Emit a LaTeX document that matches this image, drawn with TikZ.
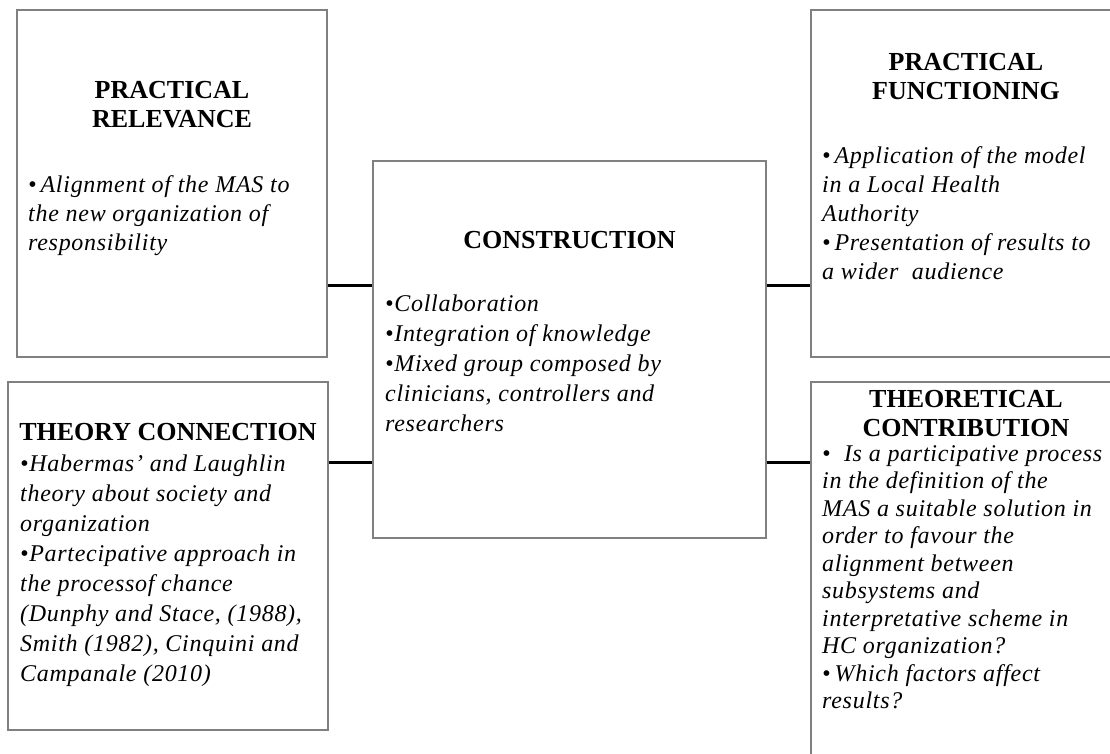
\documentclass[tikz,border=0pt]{standalone}
\usepackage{fontspec}
\setmainfont{Liberation Serif}
\newfontfamily\bodyfont[LetterSpace=3]{Liberation Serif}
\usetikzlibrary{positioning}

\begin{document}
\begin{tikzpicture}[x=1pt,y=-1pt,
  box/.style={draw=black!50,line width=1.5pt,minimum width=310pt,inner sep=0pt},
  head/.style={font=\fontsize{26}{29}\selectfont\bfseries,align=center,inner sep=0pt,anchor=north},
  txt/.style={font=\bodyfont\fontsize{24}{29}\selectfont\itshape,align=left,inner sep=0pt,anchor=north west},
  link/.style={line width=3pt,black}]
\useasboundingbox (0,0) rectangle (1110,753);
\clip (0,0) rectangle (1110,753);

\node[box,minimum height=347pt] (relev) at (172,183.5) {};
\node[box,minimum width=393pt,minimum height=377pt] (constr) at (569.5,349.5) {};
\node[box,minimum height=347pt] (funct) at (966,183.5) {};
\node[box,minimum width=320pt,minimum height=348pt] (theory) at (168,556) {};
\node[box,minimum height=410pt] (contrib) at (966,587) {};

\node[head] (relevhead) at (172,81) {PRACTICAL\\RELEVANCE};
\node[txt] (relevtxt) at (28,175) {•\,Alignment of the MAS to\\the new organization of\\responsibility};

\node[head] (constrhead) at (569.5,231) {CONSTRUCTION};
\node[txt,font=\bodyfont\fontsize{24}{30}\selectfont\itshape] (constrtxt) at (385,295) {•Collaboration\\•Integration of knowledge\\•Mixed group composed by\\clinicians, controllers and\\researchers};

\node[head] (functhead) at (966,53) {PRACTICAL\\FUNCTIONING};
\node[txt] (functtxt) at (822,146) {•\,Application of the model\\in a Local Health\\Authority\\•\,Presentation of results to\\a wider\ \ audience};

\node[head] (theoryhead) at (168,423) {THEORY CONNECTION};
\node[txt,font=\bodyfont\fontsize{24}{30}\selectfont\itshape] (theorytxt) at (20,455) {•Habermas’ and Laughlin\\theory about society and\\organization\\•Partecipative approach in\\the processof chance\\(Dunphy and Stace, (1988),\\Smith (1982), Cinquini and\\Campanale (2010)};

\node[head] (contribhead) at (966,390) {THEORETICAL\\CONTRIBUTION};
\node[txt,font=\bodyfont\fontsize{24}{27.5}\selectfont\itshape] (contribtxt) at (822,445) {•\ \ Is a participative process\\in the definition of the\\MAS a suitable solution in\\order to favour the\\alignment between\\subsystems and\\interpretative scheme in\\HC organization?\\•\,Which factors affect\\results?};

\draw[link] (relev.east |- 0,285) -- (constr.west |- 0,285);
\draw[link] (theory.east |- 0,462) -- (constr.west |- 0,462);
\draw[link] (constr.east |- 0,285) -- (funct.west |- 0,285);
\draw[link] (constr.east |- 0,462) -- (contrib.west |- 0,462);
\end{tikzpicture}
\end{document}
